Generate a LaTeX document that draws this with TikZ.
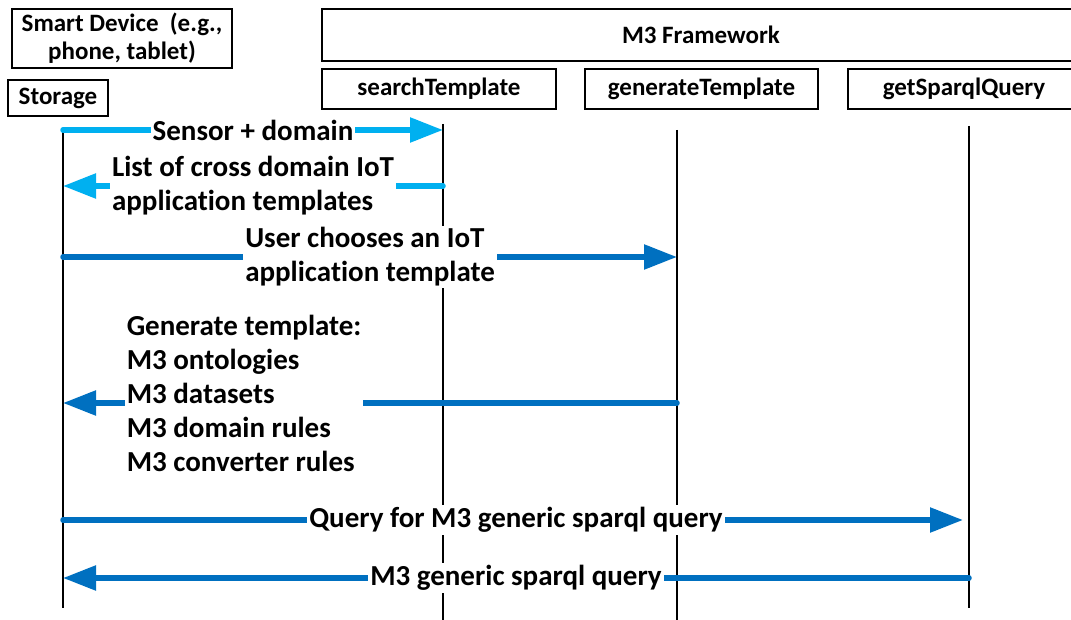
\documentclass[tikz,border=0pt]{standalone}
\usepackage{fontspec}
\setmainfont{Carlito}[Ligatures=NoCommon]
\usepackage{tikz}
\usetikzlibrary{arrows.meta,positioning}

\definecolor{skyblue}{HTML}{00B0F0}
\definecolor{seablue}{HTML}{0070C0}

\begin{document}
\begin{tikzpicture}[
      x=1pt, y=-1pt,
      box/.style={
        rectangle,
        draw=black, line width=1.5pt,
        inner sep=0pt,
        font=\fontsize{25}{28}\selectfont\bfseries,
        align=center
      },
      lifeline/.style={
        draw=black, line width=1.3pt
      },
      msg/.style={
        -{Triangle[length=33pt,width=24pt]},
        line width=5.5pt, line cap=round
      },
      lbl/.style={
        fill=white, inner sep=2pt,
        font=\fontsize{29}{34}\selectfont\bfseries,
        align=left
      }
    ]
      \useasboundingbox (0,0) rectangle (1071,620);
      \clip (0,0) rectangle (1071,620);
      % participants
      \node[box, minimum width=220pt, minimum height=59pt] (device) at (122,38.5) {Smart Device\ \ (e.g.,\\ phone, tablet)};
      \node[box, minimum width=100pt, minimum height=36pt] (storage) at (58,98) {Storage};
      \node[box, minimum width=758pt, minimum height=52pt] (framework) at (701,35) {M3 Framework};
      \node[box, minimum width=234pt, minimum height=40pt] (search) at (439,89) {searchTemplate};
      \node[box, minimum width=233pt, minimum height=40pt] (generate) at (701.5,89) {generateTemplate};
      \node[box, minimum width=232pt, minimum height=40pt] (getquery) at (964,89) {getSparqlQuery};
      % lifelines
      \coordinate (stortop) at (63,128);
      \coordinate (storbot) at (63,608);
      \coordinate (srchtop) at (443,124);
      \coordinate (srchbot) at (443,620);
      \coordinate (gentop) at (677,130);
      \coordinate (genbot) at (677,620);
      \coordinate (gqtop) at (969,126);
      \coordinate (gqbot) at (969,608);
      \draw[lifeline] (stortop) -- (storbot);
      \draw[lifeline] (srchtop) -- (srchbot);
      \draw[lifeline] (gentop) -- (genbot);
      \draw[lifeline] (gqtop) -- (gqbot);
      % messages
      \coordinate (m1) at (0,130);
      \coordinate (m2) at (0,186);
      \coordinate (m3) at (0,257);
      \coordinate (m4) at (0,403);
      \coordinate (m5) at (0,520);
      \coordinate (m6) at (0,578);
      \draw[msg, skyblue] (stortop |- m1) -- node[lbl, text=black] (sensor) {Sensor + domain} (srchtop |- m1);
      \draw[msg, skyblue] (srchtop |- m2) -- node[lbl, text=black] (list) {List of cross domain IoT\\application templates} (stortop |- m2);
      \draw[msg, seablue] (stortop |- m3) -- node[lbl, text=black] (choose) {User chooses an IoT\\application template} (gentop |- m3);
      \draw[msg, seablue] (gentop |- m4) -- node[lbl, text=black, pos=0.705, yshift=10pt] (gentext) {Generate template:\\M3 ontologies\\M3 datasets\\M3 domain rules\\M3 converter rules} (stortop |- m4);
      \draw[msg, seablue, shorten >=6pt] (stortop |- m5) -- node[lbl, text=black] (askquery) {Query for M3 generic sparql query} (gqtop |- m5);
      \draw[msg, seablue] (gqtop |- m6) -- node[lbl, text=black] (query) {M3 generic sparql query} (stortop |- m6);
    \end{tikzpicture}
\end{document}
